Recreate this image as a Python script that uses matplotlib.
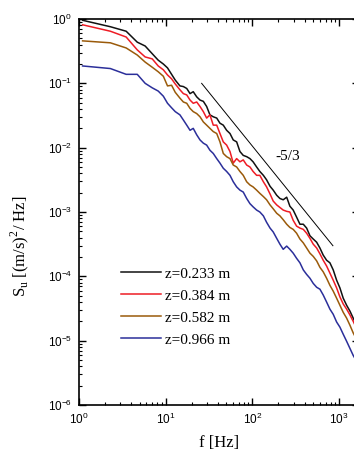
import numpy as np
import matplotlib
matplotlib.use("Agg")
import matplotlib.pyplot as plt
from matplotlib.ticker import NullFormatter

plt.rcParams['font.family'] = ['Liberation Sans', 'DejaVu Sans']

# frequency [Hz] and log10 of the spectra
freq = [1.1, 2.3, 3.5, 4.7, 5.8, 7.0, 8.2, 9.4, 10.5, 11.7, 12.9,
        14.6, 16, 17.5, 19.1, 20.8, 22.8, 24.9, 27.2, 29.7, 32.4,
        35.4, 38.8, 42.3, 46.2, 50.5, 55.2, 60.2, 65.9, 71.9, 78.5,
        86, 93.8, 102, 112, 122, 134, 146, 160, 174, 191,
        208, 227, 249, 271, 296, 324, 354, 387, 423, 462,
        504, 552, 602, 657, 719, 785, 857, 938, 1024, 1118,
        1224, 1336, 1458, 1596]

log_s_0233 = [-0.02, -0.12, -0.19, -0.36, -0.42, -0.54, -0.64, -0.70, -0.76, -0.86, -0.95,
              -1.04, -1.05, -1.08, -1.16, -1.13, -1.21, -1.26, -1.28, -1.36, -1.49,
              -1.52, -1.54, -1.62, -1.65, -1.73, -1.78, -1.88, -1.91, -2.06, -2.12,
              -2.14, -2.17, -2.22, -2.30, -2.37, -2.43, -2.50, -2.60, -2.66, -2.74,
              -2.79, -2.81, -2.77, -2.91, -2.97, -3.08, -3.19, -3.19, -3.25, -3.37,
              -3.42, -3.47, -3.56, -3.67, -3.75, -3.79, -3.90, -4.06, -4.18, -4.34,
              -4.45, -4.54, -4.65, -4.76]
log_s_0384 = [-0.09, -0.19, -0.28, -0.48, -0.59, -0.62, -0.73, -0.79, -0.87, -0.93, -1.01,
              -1.10, -1.16, -1.18, -1.26, -1.31, -1.29, -1.36, -1.44, -1.54, -1.49,
              -1.65, -1.65, -1.78, -1.91, -1.96, -2.06, -2.24, -2.17, -2.22, -2.19,
              -2.27, -2.30, -2.37, -2.43, -2.43, -2.53, -2.61, -2.72, -2.83, -2.89,
              -2.93, -2.97, -2.99, -3.00, -3.13, -3.22, -3.25, -3.27, -3.33, -3.41,
              -3.50, -3.56, -3.65, -3.75, -3.84, -3.95, -4.06, -4.18, -4.32, -4.43,
              -4.51, -4.60, -4.70, -4.81]
log_s_0582 = [-0.34, -0.37, -0.45, -0.56, -0.67, -0.75, -0.82, -0.89, -1.04, -1.03, -1.14,
              -1.23, -1.29, -1.31, -1.39, -1.44, -1.47, -1.52, -1.60, -1.65, -1.70,
              -1.75, -1.78, -1.91, -2.09, -2.14, -2.17, -2.27, -2.30, -2.37, -2.43,
              -2.53, -2.58, -2.61, -2.66, -2.71, -2.76, -2.81, -2.89, -2.95, -3.02,
              -3.06, -3.12, -3.19, -3.24, -3.27, -3.33, -3.42, -3.48, -3.56, -3.64,
              -3.69, -3.76, -3.86, -3.93, -4.03, -4.14, -4.23, -4.34, -4.45, -4.56,
              -4.65, -4.76, -4.88, -4.98]
log_s_0966 = [-0.73, -0.77, -0.86, -0.86, -1.00, -1.07, -1.12, -1.20, -1.31, -1.38, -1.44,
              -1.49, -1.57, -1.65, -1.73, -1.70, -1.80, -1.88, -1.93, -1.96, -2.04,
              -2.09, -2.17, -2.24, -2.32, -2.37, -2.43, -2.53, -2.61, -2.66, -2.69,
              -2.79, -2.87, -2.92, -2.97, -3.00, -3.06, -3.16, -3.25, -3.31, -3.41,
              -3.50, -3.58, -3.53, -3.58, -3.64, -3.72, -3.79, -3.90, -3.97, -4.03,
              -4.11, -4.17, -4.20, -4.29, -4.40, -4.51, -4.59, -4.71, -4.79, -4.90,
              -5.01, -5.12, -5.23, -5.32]

labels = ['z=0.233 m', 'z=0.384 m', 'z=0.582 m', 'z=0.966 m']
colors = ['#111111', '#ee1c25', '#9a5a0a', '#2b2f9a']

# -5/3 reference slope
ref_f = np.array([26.0, 850.0])
ref_s = 0.1 * (ref_f / ref_f[0]) ** (-5.0 / 3.0)

fig = plt.figure(figsize=(3.54, 4.5), dpi=100)
ax = fig.add_axes([79 / 354, 45 / 450, 280 / 354, 386 / 450])

for ys, lab, c in zip([log_s_0233, log_s_0384, log_s_0582, log_s_0966], labels, colors):
    ax.plot(freq, np.power(10.0, ys), color=c, lw=1.1, label=lab)

ax.plot(ref_f, ref_s, color='black', lw=0.7)
ax.text(258, 7.4e-3, '-5/3', ha='center', va='center', fontsize=11,
        family='Liberation Serif')

ax.set_xscale('log')
ax.set_yscale('log')
ax.set_xlim(1, 1700)
ax.set_ylim(1e-6, 1)
ax.xaxis.set_minor_formatter(NullFormatter())
ax.yaxis.set_minor_formatter(NullFormatter())

ax.tick_params(which='both', direction='in', top=True, right=True, labelsize=8.5)
ax.tick_params(which='major', length=5, width=1.0, pad=5)
ax.tick_params(which='minor', length=2.5, width=0.8)
for s in ax.spines.values():
    s.set_linewidth(1.2)

ax.set_xlabel('f [Hz]', fontsize=12, family='Liberation Serif', labelpad=6)
fig.text(20 / 354, 1 - 246 / 450, r'S$_{\mathdefault{u}}$ [(m/s)$^{\mathdefault{2}}$/ Hz]',
         rotation=90, ha='center', va='center', fontsize=12, family='Liberation Serif')

ax.legend(loc='upper left', bbox_to_anchor=(0.15, 0.358), frameon=False,
          prop={'family': 'Liberation Serif', 'size': 11}, borderpad=0, borderaxespad=0,
          handlelength=2.6, handletextpad=0.3, labelspacing=0.55)

fig.savefig('out.png', dpi=100)
